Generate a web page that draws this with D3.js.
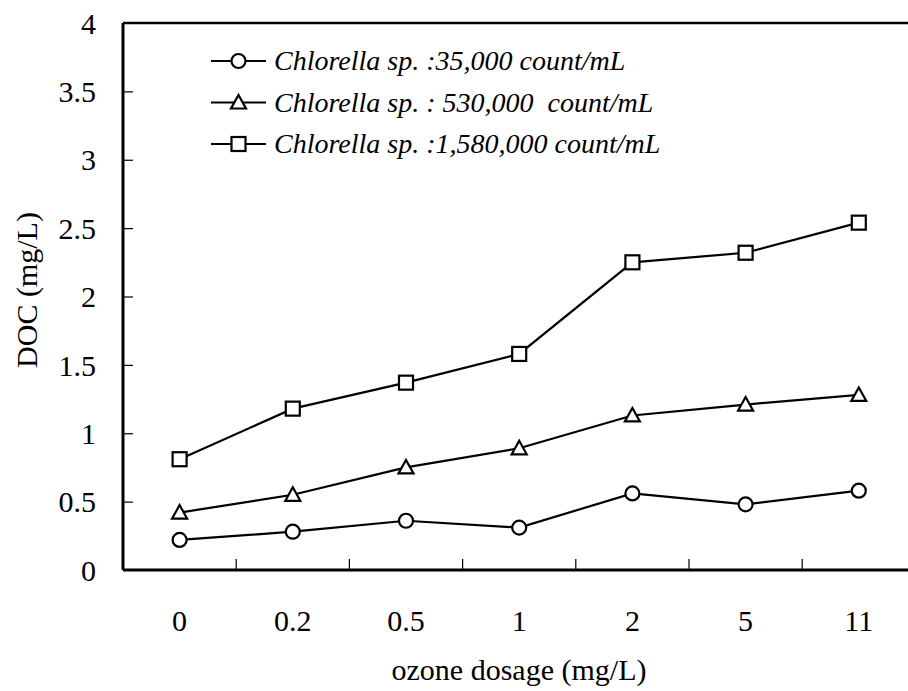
<!DOCTYPE html>
<html><head><meta charset="utf-8"><script src="https://cdn.jsdelivr.net/npm/d3@7"></script></head>
<body style="margin:0">
<svg id="chart" width="908" height="691" font-family="Liberation Serif" style="display:block;background:#fff"></svg>
<script>
const categories = ["0", "0.2", "0.5", "1", "2", "5", "11"];
const seriesNames = [
  "Chlorella sp. :35,000 count/mL",
  "Chlorella sp. : 530,000  count/mL",
  "Chlorella sp. :1,580,000 count/mL"
];
const series35k = [0.22, 0.28, 0.36, 0.31, 0.56, 0.48, 0.58];
const series530k = [0.42, 0.55, 0.75, 0.89, 1.13, 1.21, 1.28];
const series1580k = [0.81, 1.18, 1.37, 1.58, 2.25, 2.32, 2.54];
const yTicks = [0, 0.5, 1, 1.5, 2, 2.5, 3, 3.5, 4];
const xTitle = "ozone dosage (mg/L)";
const yTitle = "DOC (mg/L)";
const markers = ["circle", "triangle", "square"];

const svg = d3.select("#chart");
const mLeft = 123, mTop = 23, mBottom = 570, band = 113.2;

function serif(sel, size) {
  return sel.attr("font-family", "Liberation Serif").attr("font-size", size)
    .style("font-family", '"Liberation Serif"').style("font-size", size + "px");
}

const x = d3.scaleBand().domain(categories).range([mLeft, mLeft + band * categories.length]).padding(0);
const y = d3.scaleLinear().domain([0, 4]).range([mBottom, mTop]);

// top border
svg.append("line").attr("x1", mLeft).attr("x2", 908).attr("y1", mTop).attr("y2", mTop)
  .attr("stroke", "#000").attr("stroke-width", 2.5);

// y axis
const yAxis = svg.append("g").attr("transform", `translate(${mLeft},0)`)
  .call(d3.axisLeft(y).tickValues(yTicks).tickFormat(d3.format("~g")).tickSizeInner(-10).tickSizeOuter(0).tickPadding(27));
serif(yAxis, 30);
yAxis.select(".domain").attr("stroke-width", 3).attr("d", `M0,${mTop}V${mBottom}`);
yAxis.selectAll(".tick line").attr("stroke-width", 1.2);
serif(yAxis.selectAll(".tick text"), 30).attr("dy", "0.34em");
yAxis.selectAll(".tick").filter(d => d === 0 || d === 4).select("line").remove();

// x axis
const xAxis = svg.append("g").attr("transform", `translate(0,${mBottom})`)
  .call(d3.axisBottom(x).tickSizeInner(0).tickSizeOuter(0).tickPadding(40));
serif(xAxis, 30);
xAxis.select(".domain").attr("stroke-width", 3).attr("d", `M${mLeft},0H908`);
serif(xAxis.selectAll(".tick text"), 30).attr("dy", "0.71em");

// x boundary ticks (inside)
svg.append("g").selectAll("line").data(categories.slice(0, categories.length - 1)).join("line")
  .attr("x1", d => x(d) + x.bandwidth()).attr("x2", d => x(d) + x.bandwidth())
  .attr("y1", mBottom).attr("y2", mBottom - 11)
  .attr("stroke", "#000").attr("stroke-width", 1.2);

// titles
serif(svg.append("text"), 30).attr("x", 519).attr("y", 680).attr("text-anchor", "middle").text(xTitle);
serif(svg.append("text"), 30).attr("transform", `translate(37,290) rotate(-90)`).attr("text-anchor", "middle").text(yTitle);

function drawMarker(g, type, cx, cy) {
  const s = 7;
  if (type === "circle") {
    g.append("circle").attr("cx", cx).attr("cy", cy).attr("r", s)
      .attr("fill", "#fff").attr("stroke", "#000").attr("stroke-width", 2.2);
  } else if (type === "square") {
    g.append("rect").attr("x", cx - s).attr("y", cy - s).attr("width", 2 * s).attr("height", 2 * s)
      .attr("fill", "#fff").attr("stroke", "#000").attr("stroke-width", 2.2);
  } else {
    g.append("path").attr("d", `M${cx},${cy - 7.5}L${cx + 7.5},${cy + 6}L${cx - 7.5},${cy + 6}Z`)
      .attr("fill", "#fff").attr("stroke", "#000").attr("stroke-width", 2.2);
  }
}

const allSeries = [series35k, series530k, series1580k];
const line = d3.line().x((d, i) => x(categories[i]) + x.bandwidth() / 2).y(d => y(d));
allSeries.forEach((vals, si) => {
  const g = svg.append("g");
  g.append("path").datum(vals).attr("d", line).attr("fill", "none").attr("stroke", "#000").attr("stroke-width", 2.2);
  vals.forEach((v, i) => drawMarker(g, markers[si], x(categories[i]) + x.bandwidth() / 2, y(v)));
});

// legend
const legendY = [61, 102.5, 144];
seriesNames.forEach((name, i) => {
  const g = svg.append("g");
  g.append("line").attr("x1", 211).attr("x2", 266).attr("y1", legendY[i]).attr("y2", legendY[i])
    .attr("stroke", "#000").attr("stroke-width", 2.2);
  drawMarker(g, markers[i], 238.5, legendY[i]);
  serif(g.append("text"), 28).attr("x", 274).attr("y", legendY[i]).attr("dy", "0.33em")
    .attr("font-style", "italic").style("font-style", "italic")
    .style("white-space", "pre").text(name);
});
</script>
</body>
</html>
